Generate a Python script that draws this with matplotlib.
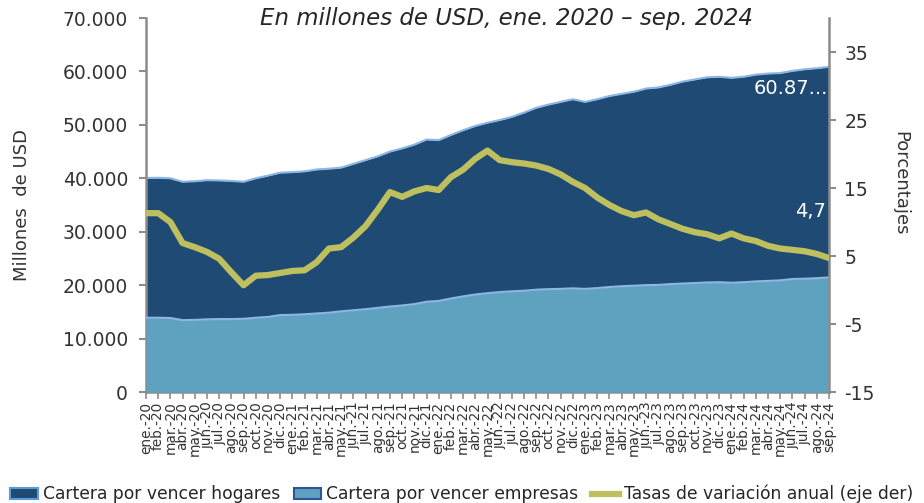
import matplotlib
matplotlib.use("Agg")
import matplotlib.pyplot as plt
from matplotlib.patches import Patch
from matplotlib.lines import Line2D
import numpy as np

plt.rcParams['font.family'] = ['DejaVu Sans']
plt.rcParams['axes.unicode_minus'] = False

# Monthly series, ene-2020 .. sep-2024
meses = ['ene', 'feb', 'mar', 'abr', 'may', 'jun', 'jul', 'ago', 'sep', 'oct', 'nov', 'dic']
anios = ['20', '21', '22', '23', '24']
etiquetas = [f"{m}.-{a}" for a in anios for m in meses][:57]

hogares = [
    40050, 40100, 40000, 39350, 39450, 39650, 39600, 39500, 39350, 40000, 40500, 41050,
    41150, 41300, 41650, 41800, 42000, 42700, 43400, 44100, 45000, 45600, 46300, 47250,
    47150, 48100, 49000, 49800, 50400, 50900, 51500, 52300, 53200, 53800, 54300, 54800,
    54300, 54800, 55400, 55800, 56200, 56800, 57000, 57500, 58100, 58500, 58900, 59000,
    58800, 59000, 59400, 59600, 59700, 60100, 60400, 60600, 60870,
]
empresas = [
    13900, 13900, 13850, 13450, 13500, 13600, 13650, 13650, 13700, 13900, 14050, 14400,
    14450, 14550, 14700, 14850, 15100, 15300, 15500, 15750, 16000, 16200, 16450, 16900,
    17050, 17500, 17900, 18250, 18500, 18700, 18850, 18950, 19150, 19250, 19300, 19400,
    19300, 19450, 19650, 19800, 19900, 20000, 20050, 20200, 20300, 20400, 20500, 20550,
    20450, 20550, 20700, 20800, 20900, 21150, 21200, 21300, 21450,
]
variacion = [
    11.3, 11.3, 10.0, 6.9, 6.3, 5.6, 4.6, 2.6, 0.7, 2.1, 2.2, 2.5,
    2.8, 2.9, 4.1, 6.1, 6.3, 7.7, 9.4, 11.8, 14.4, 13.7, 14.5, 15.0,
    14.7, 16.6, 17.7, 19.3, 20.5, 19.1, 18.8, 18.6, 18.3, 17.8, 17.0, 15.9,
    15.0, 13.6, 12.5, 11.6, 11.0, 11.4, 10.4, 9.7, 9.0, 8.5, 8.2, 7.6,
    8.3, 7.6, 7.2, 6.5, 6.1, 5.9, 5.7, 5.3, 4.7,
]

c_hog = '#1F4A74'
c_emp = '#5FA2BF'
c_borde = '#8DB6E4'
c_linea = '#BEBF5E'
c_eje = '#8C8C8C'
c_txt = '#333333'

x = np.arange(len(etiquetas))

fig = plt.figure(figsize=(9.24, 5.03), dpi=100)
ax = fig.add_axes([146 / 924, 1 - 392 / 503, (829 - 146) / 924, (392 - 18) / 503])

ax.fill_between(x, 0, hogares, color=c_hog, lw=0, zorder=1)
ax.plot(x, hogares, color=c_borde, lw=1.5, zorder=2)
ax.fill_between(x, 0, empresas, color=c_emp, lw=0, zorder=3)
ax.plot(x, empresas, color=c_borde, lw=1.5, zorder=4)

ax.set_xlim(0, len(x) - 1)
ax.set_ylim(0, 70000)
ax.set_yticks(np.arange(0, 70001, 10000))
ax.set_yticklabels([f"{v:,}".replace(',', '.') for v in range(0, 70001, 10000)])
ax.set_xticks(x)
ax.set_xticklabels(etiquetas, rotation=90, fontsize=9.8, color=c_txt)
ax.tick_params(axis='y', labelsize=13.5, colors=c_eje, labelcolor=c_txt, length=5, width=1.5, pad=8)
ax.tick_params(axis='x', colors=c_eje, labelcolor=c_txt, length=5, width=1.2, pad=2)

for s in ['top', 'right']:
    ax.spines[s].set_visible(False)
for s in ['left', 'bottom']:
    ax.spines[s].set_color(c_eje)
    ax.spines[s].set_linewidth(1.8)

ax2 = ax.twinx()
ax2.plot(x, variacion, color=c_linea, lw=4.5, solid_capstyle='round', zorder=5)
ax2.set_ylim(-15, 40)
ax2.set_yticks([-15, -5, 5, 15, 25, 35])
ax2.tick_params(axis='y', labelsize=13.5, colors=c_eje, labelcolor=c_txt, length=5, width=1.5, pad=6)
for s in ['top', 'left', 'bottom']:
    ax2.spines[s].set_visible(False)
ax2.spines['right'].set_color(c_eje)
ax2.spines['right'].set_linewidth(1.8)

# Axis titles
fig.text(22 / 924, 1 - 205 / 503, 'Millones  de USD', rotation=90, ha='center', va='center',
         fontsize=13, color=c_txt)
fig.text(900 / 924, 1 - 183 / 503, 'Porcentajes', rotation=270, ha='center', va='center',
         fontsize=13, color=c_txt)

# Last-value labels
etq_hog = f"{hogares[-1]:,}".replace(',', '.')[:5] + '...'
ax.annotate(etq_hog, (x[-1], hogares[-1]), xytext=(-1, -9), textcoords='offset points',
            ha='right', va='top', color='white', fontsize=14)
ax2.annotate(f"{variacion[-1]}".replace('.', ','), (x[-1], variacion[-1]), xytext=(-2, 27),
             textcoords='offset points', ha='right', va='bottom', color='white', fontsize=14)

fig.text(506 / 924, 1 - 18 / 503, 'En millones de USD, ene. 2020 – sep. 2024', ha='center', va='center',
         fontsize=16.5, style='italic', color='#262626')

handles = [
    Patch(facecolor=c_hog, edgecolor='#5B9BD5', lw=1.5, label='Cartera por vencer hogares'),
    Patch(facecolor=c_emp, edgecolor='#2F5597', lw=1.5, label='Cartera por vencer empresas'),
    Line2D([0], [0], color=c_linea, lw=4.5, label='Tasas de variación anual (eje der)'),
]
fig.legend(handles=handles, loc='center', bbox_to_anchor=(0.5, 1 - 494 / 503), ncol=3, frameon=False,
           fontsize=12.3, handlelength=1.6, handleheight=0.6, handletextpad=0.3, columnspacing=0.8,
           labelcolor='#262626')

fig.savefig('out.png', dpi=100)
